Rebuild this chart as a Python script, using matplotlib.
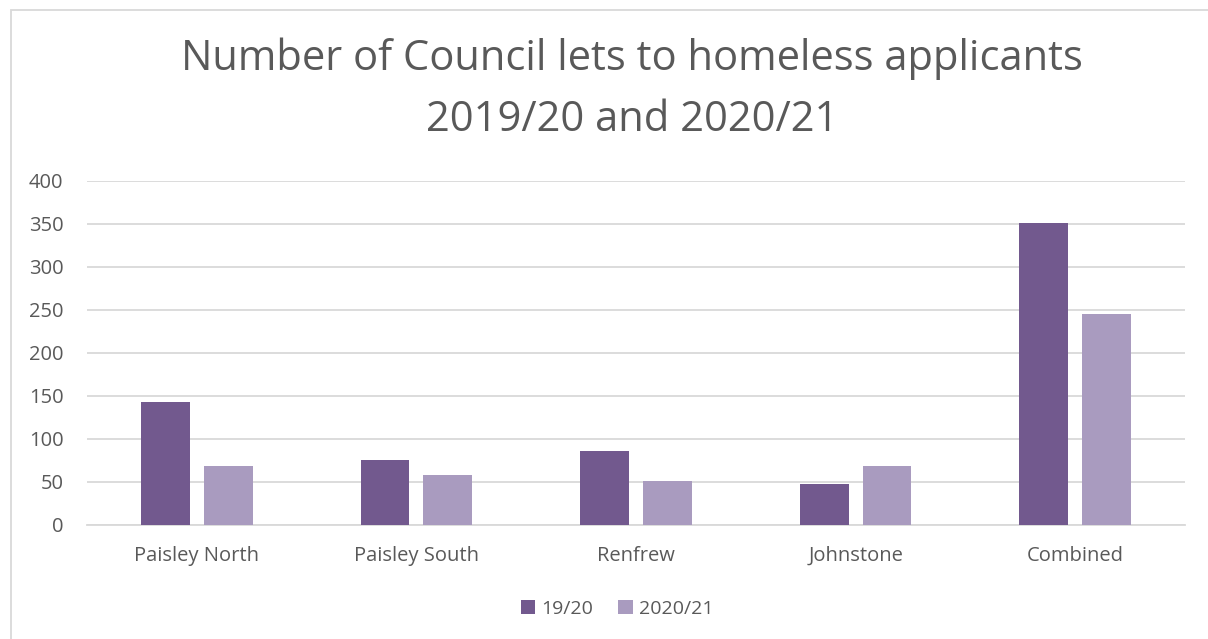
import matplotlib
matplotlib.use("Agg")
import matplotlib.pyplot as plt
import numpy as np
from matplotlib.patches import Rectangle

categories = ["Paisley North", "Paisley South", "Renfrew", "Johnstone", "Combined"]
series_names = ["19/20", "2020/21"]
values_1920 = [143, 75, 86, 47, 351]
values_2021 = [68, 58, 51, 68, 245]
yticks = [0, 50, 100, 150, 200, 250, 300, 350, 400]
title = "Number of Council lets to homeless applicants\n2019/20 and 2020/21"

colors = ["#72598e", "#a99bbf"]
text_color = "#595959"
grid_color = "#d9d9d9"

plt.rcParams['font.family'] = ['Open Sans', 'DejaVu Sans']

W, H = 1208, 639
fig = plt.figure(figsize=(W / 100, H / 100), dpi=100)
fig.patch.set_facecolor("white")

# outer chart border
fig.patches.append(Rectangle((11 / W, -0.1), 1.2, (H - 10) / H + 0.1, transform=fig.transFigure,
                             fill=False, edgecolor=grid_color, linewidth=1.3))

left, right = 87 / W, 1185 / W
bottom, top = (H - 524.7) / H, (H - 180.7) / H
ax = fig.add_axes([left, bottom, right - left, top - bottom])

x = np.arange(len(categories))
bw = 0.223
off = 0.143
b1 = ax.bar(x - off, values_1920, bw, color=colors[0], label=series_names[0], zorder=3)
b2 = ax.bar(x + off, values_2021, bw, color=colors[1], label=series_names[1], zorder=3)

ax.set_xlim(-0.5, len(categories) - 0.5)
ax.set_ylim(0, 400)
ax.set_yticks(yticks)
ax.set_xticks(x)
ax.set_xticklabels(categories)
ax.tick_params(axis='both', length=0, labelsize=14.5, colors=text_color)
ax.tick_params(axis='x', pad=15)
ax.tick_params(axis='y', pad=17)
ax.yaxis.grid(True, color=grid_color, linewidth=1.3, zorder=0)
ax.set_axisbelow(True)
for s in ["top", "right", "left"]:
    ax.spines[s].set_visible(False)
ax.spines["bottom"].set_color(grid_color)
ax.spines["bottom"].set_linewidth(1.3)

fig.text(632 / W, 1 - 89 / H, title, ha='center', va='center', fontsize=30,
         color=text_color, linespacing=1.6)

leg = fig.legend(handles=[b1, b2], labels=series_names, loc='center',
                 bbox_to_anchor=(617 / W, 1 - 609 / H), ncol=2, frameon=False,
                 fontsize=14, handlelength=0.75, handleheight=0.75, handletextpad=0.3,
                 columnspacing=1.3)
for t in leg.get_texts():
    t.set_color(text_color)

fig.savefig("out.png", dpi=100, facecolor="white")
